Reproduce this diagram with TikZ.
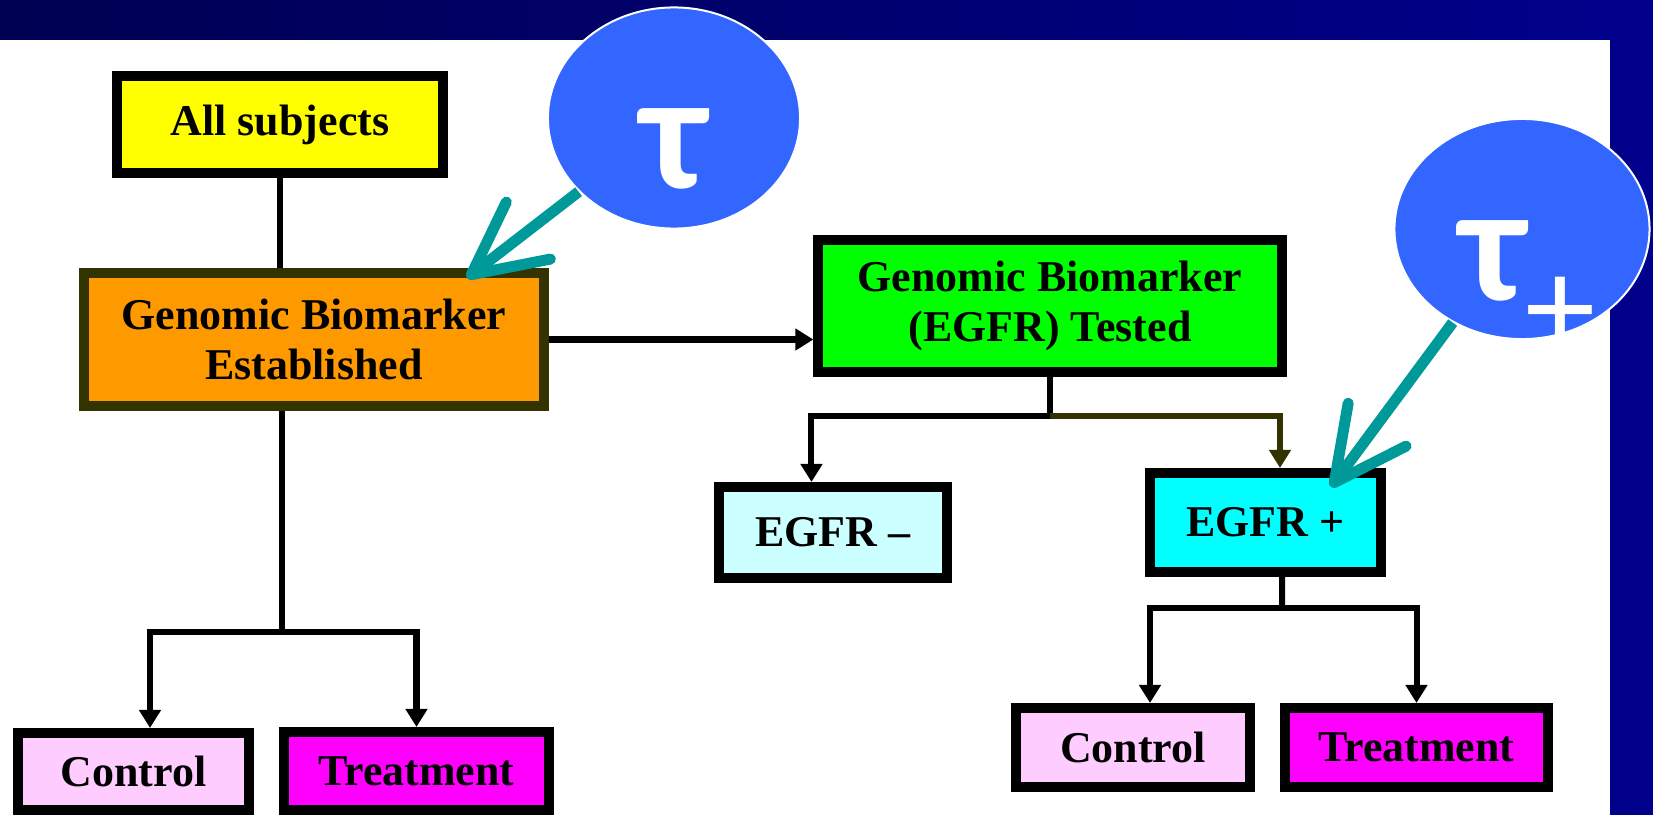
\documentclass[tikz,border=0pt]{standalone}
\usepackage{fontspec}
\setmainfont{Liberation Serif}
\newfontfamily\taufont{Carlito}
\usetikzlibrary{arrows.meta,shapes.geometric,positioning}
\definecolor{boxyellow}{HTML}{FFFF00}
\definecolor{boxorange}{HTML}{FF9900}
\definecolor{boxolive}{HTML}{333300}
\definecolor{boxgreen}{HTML}{00FF00}
\definecolor{boxpaleblue}{HTML}{CCFFFF}
\definecolor{boxcyan}{HTML}{00FFFF}
\definecolor{boxpink}{HTML}{FFCCFF}
\definecolor{boxmagenta}{HTML}{FF00FF}
\definecolor{bubbleblue}{HTML}{3366FF}
\definecolor{pointerteal}{HTML}{009999}
\definecolor{navyleft}{HTML}{000052}
\definecolor{navyright}{HTML}{00008C}
\begin{document}
\begin{tikzpicture}[x=0.01cm,y=-0.01cm,
    box/.style={draw=black,line width=0.1cm,align=center,inner sep=0pt,
      font=\bfseries\fontsize{12.5}{14.2}\selectfont},
    conn/.style={draw=black,line width=0.06cm},
    arr/.style={conn,-{Triangle[width=0.21cm,length=0.18cm]}},
    bubble/.style={ellipse,fill=bubbleblue,draw=white,line width=0.02cm,inner sep=0pt},
    bubbletext/.style={text=white,inner sep=0pt,font=\taufont\bfseries\fontsize{47}{50}\selectfont},
    pointer/.style={draw=pointerteal,line width=0.11cm,
      -{Straight Barb[round,length=0.72cm,width=0.72cm]}}]
  \useasboundingbox (0,0) rectangle (1653,815);
  %background
  \fill[left color=navyleft,right color=navyright] (0,0) rectangle (1653,815);
  \fill[white] (0,40) rectangle (1610,815);
  %boxes
  \node[box,fill=boxyellow,minimum width=3.26cm,minimum height=0.97cm] (allsub) at (280,124.5) {All subjects};
  \node[box,fill=boxorange,draw=boxolive,minimum width=4.6cm,minimum height=1.33cm] (genest) at (314,339.5) {Genomic Biomarker\\Established};
  \node[box,fill=boxgreen,minimum width=4.63cm,minimum height=1.31cm] (gentest) at (1050,306) {Genomic Biomarker\\(EGFR) Tested};
  \node[box,fill=boxpaleblue,minimum width=2.28cm,minimum height=0.91cm] (egfrneg) at (833,532.5) {EGFR --};
  \node[box,fill=boxcyan,minimum width=2.31cm,minimum height=0.99cm] (egfrpos) at (1265.5,522.5) {EGFR +};
  \node[box,fill=boxpink,minimum width=2.31cm,minimum height=0.77cm] (ctrlL) at (133.5,771.5) {Control};
  \node[box,fill=boxmagenta,minimum width=2.65cm,minimum height=0.78cm] (trtL) at (416.5,771) {Treatment};
  \node[box,fill=boxpink,minimum width=2.34cm,minimum height=0.79cm] (ctrlR) at (1133,747.5) {Control};
  \node[box,fill=boxmagenta,minimum width=2.63cm,minimum height=0.79cm] (trtR) at (1416.5,747.5) {Treatment};
  %connectors
  \coordinate (jl) at (282,632);
  \coordinate (jr) at (1050,416);
  \coordinate (jb) at (1282,608);
  \draw[conn] (allsub.south) -- (allsub.south |- genest.north);
  \draw[conn] (jl |- genest.south) -- (jl);
  \draw[arr] (jl) -| ([xshift=0.165cm]ctrlL.north);
  \draw[arr] (jl) -| (trtL.north);
  \draw[arr] (genest.east) -- (genest.east -| gentest.west);
  \draw[conn] (gentest.south) -- (jr);
  \draw[arr] (jr) -| ([xshift=-0.215cm]egfrneg.north);
  \draw[arr,draw=boxolive] (jr) -| ([xshift=0.145cm]egfrpos.north);
  \draw[conn] ([xshift=0.165cm]egfrpos.south) -- (jb);
  \draw[arr] (jb) -| ([xshift=0.17cm]ctrlR.north);
  \draw[arr] (jb) -| (trtR.north);
  %bubbles
  \node[bubble,minimum width=2.52cm,minimum height=2.21cm] (tau) at (674,118) {};
  \node[bubble,minimum width=2.55cm,minimum height=2.2cm] (taup) at (1522,229) {};
  \node[bubbletext,anchor=base] (taulbl) at (674,189) {τ};
  \node[bubbletext,anchor=base west] (tauplbl) at (1460,300)
    {τ\raisebox{-0.54cm}{\mdseries\fontsize{40}{44}\selectfont +}};
  %pointers
  \coordinate (tautip) at (467,278);
  \coordinate (tauptip) at (1331,487);
  \draw[pointer] (tau) -- (tautip);
  \draw[pointer] (taup) -- (tauptip);
\end{tikzpicture}
\end{document}
